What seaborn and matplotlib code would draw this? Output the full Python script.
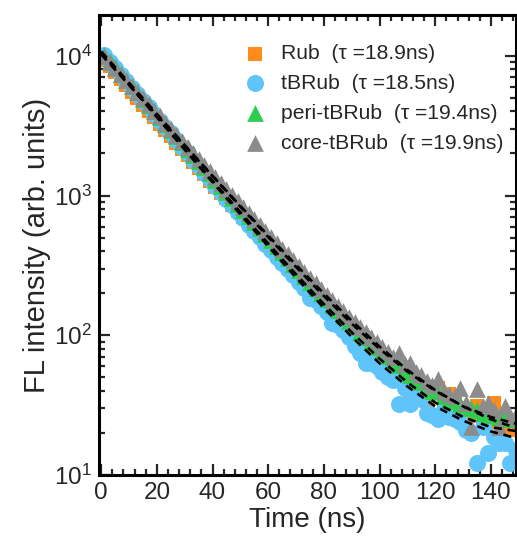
import numpy as np
import pandas as pd
import seaborn as sns
import matplotlib
matplotlib.use('Agg')
import matplotlib.pyplot as plt
from matplotlib.ticker import MultipleLocator, LogLocator

sns.set_style('ticks')
plt.rcParams['font.family'] = ['Liberation Sans', 'DejaVu Sans']
plt.rcParams['mathtext.fontset'] = 'custom'
plt.rcParams['mathtext.rm'] = 'Liberation Sans'

# time axis of the decay data (ns)
time_ns = list(range(1, 150, 2))

rub = [9400, 8450, 7600, 6830, 6150, 5530, 4980, 4480, 4040, 3630,
       3270, 2940, 2650, 2390, 2150, 1940, 1750, 1580, 1420, 1280,
       1160, 1045, 955, 862, 778, 703, 636, 575, 520, 470,
       426, 385, 348, 316, 286, 259, 235, 213, 193, 176,
       160, 145, 132, 120, 110, 100, 92, 84, 77, 71,
       66, 62, 56, 50, 44, 40, 38, 36, 34, 40,
       42, 31, 38, 37, 30, 28, 27, 31, 26, 25,
       33, 24, 23, 21, 22]

tbrub = [10100, 9090, 8160, 7320, 6580, 5900, 5300, 4760, 4270, 3830,
         3440, 3090, 2780, 2490, 2240, 2010, 1810, 1620, 1460, 1310,
         1180, 1060, 950, 854, 767, 690, 620, 558, 502, 452,
         407, 366, 330, 298, 268, 242, 218, 185, 178, 161,
         146, 122, 119, 109, 97, 84, 75, 63, 63, 60,
         55, 50, 48, 32, 42, 32, 38, 35, 28, 27,
         25, 29, 26, 25, 24, 21, 20, 12.2, 22, 14.4,
         18.7, 17, 16.9, 12.2, 15]

peri = [10100, 9140, 8250, 7440, 6720, 6060, 5470, 4930, 4450, 4020,
        3630, 3270, 2950, 2670, 2410, 2170, 1960, 1770, 1600, 1440,
        1300, 1180, 1060, 963, 870, 787, 711, 644, 582, 527,
        477, 432, 392, 355, 322, 292, 265, 241, 219, 200,
        182, 166, 151, 138, 126, 116, 106, 98, 90, 83,
        77, 71, 66, 61, 56, 52, 49, 46, 43, 40,
        39, 37, 35, 34, 32, 31, 30, 29, 28, 27,
        27, 26, 26, 25, 25]

core = [10000, 9060, 8190, 7410, 6700, 6070, 5490, 4960, 4490, 4060,
        3680, 3330, 3010, 2720, 2470, 2230, 2020, 1830, 1650, 1500,
        1360, 1230, 1110, 1010, 912, 827, 749, 679, 616, 558,
        506, 460, 417, 379, 344, 313, 284, 259, 235, 214,
        195, 178, 163, 149, 136, 125, 114, 105, 97, 89,
        82, 76, 70, 75, 62, 63, 55, 52, 47, 44,
        49, 40, 38, 37, 42, 33, 22, 41, 31, 33,
        29, 22, 31, 26, 27]

# fitted single-exponential curves, read every 10 ns
fit_time = list(range(0, 151, 10))
fit_rub = [10515, 6200, 3660, 2160, 1280, 760, 454, 273, 167, 105, 68, 46, 33, 26, 22, 20.5]
fit_tbrub = [10715, 6247, 3645, 2129, 1246, 732, 433, 258, 157, 97.5, 63, 43, 31, 24.5, 20.5, 18.2]
fit_peri = [10718, 6409, 3835, 2298, 1380, 831, 504, 308, 191, 121, 80, 55, 40, 31, 26, 23]
fit_core = [10216, 6187, 3749, 2274, 1383, 843, 516, 319, 199, 127, 83, 56.5, 40.5, 31, 25, 21.4]

labels = ['Rub  (\u03c4 =18.9ns)', 'tBRub  (\u03c4 =18.5ns)',
          'peri-tBRub  (\u03c4 =19.4ns)', 'core-tBRub  (\u03c4 =19.9ns)']
colors = ['#ff8c1a', '#5ec4fa', '#2ecc4f', '#8c8c8c']
markers = ['s', 'o', '^', '^']
sizes = [105, 150, 145, 145]

fig = plt.figure(figsize=(5.17, 5.46), dpi=100)
ax = fig.add_axes([0.192, 0.130, 0.806, 0.842])

for vals, lab, col, mk, sz in zip([rub, tbrub, peri, core], labels, colors, markers, sizes):
    df = pd.DataFrame({'t': time_ns, 'I': vals})
    sns.scatterplot(data=df, x='t', y='I', ax=ax, color=col, marker=mk, s=sz,
                    linewidth=0, label=lab, zorder=2)

for fit in [fit_rub, fit_tbrub, fit_peri, fit_core]:
    fdf = pd.DataFrame({'t': fit_time, 'I': fit})
    sns.lineplot(data=fdf, x='t', y='I', ax=ax, color='black', lw=1.9,
                 linestyle=(0, (3.0, 2.2)), zorder=3, legend=False)

ax.set_yscale('log')
ax.set_xlim(-0.7, 149)
ax.set_ylim(10, 10 ** 4.29)
ax.xaxis.set_major_locator(MultipleLocator(20))
ax.xaxis.set_minor_locator(MultipleLocator(4))
ax.yaxis.set_major_locator(LogLocator(base=10))
ax.yaxis.set_minor_locator(LogLocator(base=10, subs=np.arange(2, 10)))

ax.tick_params(which='both', direction='in', top=True, right=True, width=1.6,
               labelsize=17.5, pad=5)
ax.tick_params(which='major', length=8)
ax.tick_params(which='minor', length=4)
for sp in ax.spines.values():
    sp.set_linewidth(2.2)
    sp.set_color('black')

ax.set_xlabel('Time (ns)', fontsize=20, labelpad=2)
ax.set_ylabel('FL intensity (arb. units)', fontsize=21, labelpad=2)

leg = ax.legend(loc='upper right', frameon=False, fontsize=15.2, handletextpad=0.25,
                labelspacing=0.52, borderaxespad=0.2, markerscale=1.0,
                bbox_to_anchor=(1.0, 0.965))

fig.savefig('out.png', dpi=100)
